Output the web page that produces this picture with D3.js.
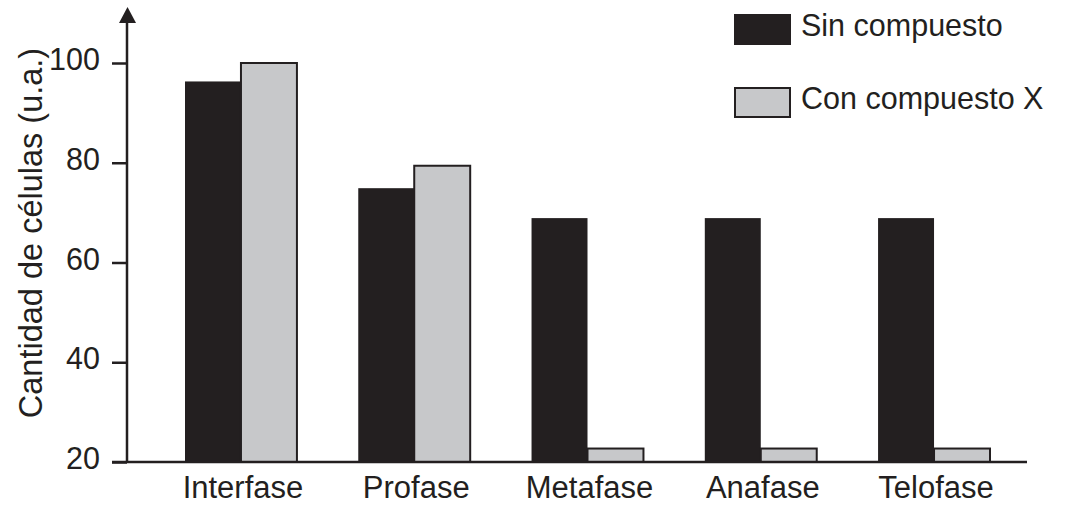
<!doctype html>
<html lang="es">
<head>
<meta charset="utf-8">
<title>Cantidad de células por fase</title>
<script src="https://cdn.jsdelivr.net/npm/d3@7"></script>
<style>
    body { margin: 0; background: #ffffff; }
    svg { display: block; font-family: "Liberation Sans", Arial, Helvetica, sans-serif; }
</style>
</head>
<body>
<svg></svg>
<script>
    var width = 1067;
    var height = 505;

    var fases = ["Interfase", "Profase", "Metafase", "Anafase", "Telofase"];
    var sinCompuesto = [96.3, 74.9, 68.9, 68.9, 68.9];
    var conCompuesto = [100, 79.4, 22.7, 22.7, 22.7];
    var series = ["Sin compuesto", "Con compuesto X"];
    var yTicks = [20, 40, 60, 80, 100];
    var yTitle = "Cantidad de células (u.a.)";

    var ink = "#231f20";
    var colors = ["#231f20", "#c7c8ca"];

    var svg = d3.select("svg").attr("width", width).attr("height", height);

    var x = d3.scaleBand()
        .domain(fases)
        .range([185, 990])
        .paddingInner(0.354)
        .paddingOuter(0);

    var xSub = d3.scaleBand()
        .domain([0, 1])
        .range([0, x.bandwidth()]);

    var y = d3.scaleLinear()
        .domain([20, 100])
        .range([462, 63]);

    // bars
    var groups = svg.selectAll("g.fase")
        .data(fases)
        .enter()
        .append("g")
        .attr("class", "fase")
        .attr("transform", function (d) { return "translate(" + x(d) + ",0)"; });

    groups.selectAll("rect")
        .data(function (d, i) { return [sinCompuesto[i], conCompuesto[i]]; })
        .enter()
        .append("rect")
        .attr("x", function (d, j) { return xSub(j); })
        .attr("y", function (d) { return y(d); })
        .attr("width", xSub.bandwidth())
        .attr("height", function (d) { return y(20) - y(d); })
        .attr("fill", function (d, j) { return colors[j]; })
        .attr("stroke", ink)
        .attr("stroke-width", function (d, j) { return j === 1 ? 2 : 0; });

    // y axis ticks
    var yAxis = d3.axisLeft(y)
        .tickValues(yTicks)
        .tickSize(15)
        .tickPadding(12)
        .tickFormat(d3.format("d"));

    var gy = svg.append("g")
        .attr("transform", "translate(127,0)")
        .call(yAxis);
    gy.select(".domain").remove();
    gy.selectAll(".tick line").attr("stroke", ink).attr("stroke-width", 2.5);
    gy.selectAll(".tick text")
        .attr("fill", ink)
        .attr("font-size", 30.5)
        .attr("font-family", "'Liberation Sans', Arial, sans-serif")
        .attr("dy", "0.22em");

    // axis lines + arrow
    svg.append("line")
        .attr("x1", 127).attr("x2", 127)
        .attr("y1", y(20)).attr("y2", 20)
        .attr("stroke", ink).attr("stroke-width", 2.5);
    svg.append("path")
        .attr("d", "M119,23 L136,23 L127.5,7 Z")
        .attr("fill", ink);
    svg.append("line")
        .attr("x1", 112).attr("x2", 1027)
        .attr("y1", y(20)).attr("y2", y(20))
        .attr("stroke", ink).attr("stroke-width", 2.5);

    // x labels
    svg.selectAll("text.fase-label")
        .data(fases)
        .enter()
        .append("text")
        .attr("class", "fase-label")
        .attr("x", function (d) { return x(d) + x.bandwidth() / 2 + 2; })
        .attr("y", 498)
        .attr("text-anchor", "middle")
        .attr("font-size", 31)
        .attr("fill", ink)
        .text(function (d) { return d; });

    // y title
    svg.append("text")
        .attr("transform", "translate(42,233) rotate(-90)")
        .attr("text-anchor", "middle")
        .attr("font-size", 32.5)
        .attr("fill", ink)
        .text(yTitle);

    // legend
    var legend = svg.selectAll("g.legend")
        .data(series)
        .enter()
        .append("g")
        .attr("class", "legend")
        .attr("transform", function (d, i) { return "translate(734," + (14 + i * 73) + ")"; });

    legend.append("rect")
        .attr("x", function (d, i) { return i === 1 ? 1 : 0; })
        .attr("y", function (d, i) { return i === 1 ? 1 : 0; })
        .attr("width", function (d, i) { return i === 1 ? 55 : 57; })
        .attr("height", function (d, i) { return i === 1 ? 29 : 31; })
        .attr("fill", function (d, i) { return colors[i]; })
        .attr("stroke", ink)
        .attr("stroke-width", function (d, i) { return i === 1 ? 2 : 0; });

    legend.append("text")
        .attr("x", 67)
        .attr("y", 22)
        .attr("font-size", 30.5)
        .attr("fill", ink)
        .text(function (d) { return d; });
</script>
</body>
</html>
